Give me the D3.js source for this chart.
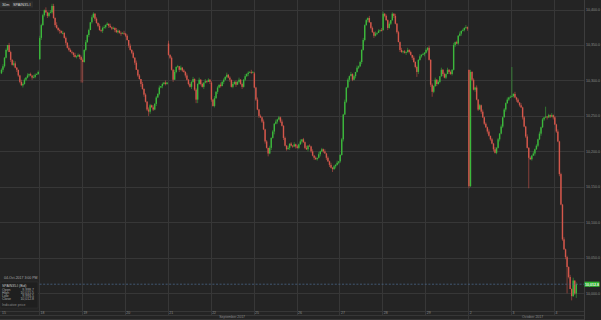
<!DOCTYPE html>
<meta charset="utf-8">
<style>
body { margin: 0; background: #242424; }
svg { display: block; font-family: "Liberation Sans", Arial, sans-serif; }
</style>
<svg width="601" height="320"></svg>
<script src="https://d3js.org/d3.v7.min.js"></script>
<script>

// trading days shown on the time axis (30 minute bars, 28 per day)
var dayLabels = ["15", "18", "19", "20", "21", "22", "25", "26", "27", "28", "29", "2", "3", "4"];
var monthLabels = ["September 2017", "October 2017"];
var monthFirstDay = [0, 11];
var firstSlot = [3, 0, 0, 0, 0, 0, 0, 0, 0, 0, 0, 0, 0, 0];

// opening price of each day's first bar
var dayOpens = [10310, 10330, 10329, 10366, 10352, 10297, 10310, 10207, 10186, 10371, 10339, 10315, 10277, 10248];

// closing prices, one row per day
var closes = [
  [10315, 10320, 10332, 10343, 10350, 10340, 10329, 10322, 10324, 10318, 10315, 10307, 10298, 10293, 10295, 10301, 10304, 10307, 10309, 10307, 10304, 10305, 10308, 10309, 10312],
  [10360, 10378, 10392, 10399, 10396, 10391, 10395, 10396, 10405, 10388, 10378, 10374, 10371, 10370, 10367, 10367, 10360, 10353, 10346, 10343, 10340, 10339, 10336, 10333, 10334, 10336, 10333, 10329],
  [10326, 10343, 10354, 10364, 10371, 10382, 10389, 10394, 10387, 10381, 10377, 10371, 10370, 10374, 10375, 10378, 10380, 10377, 10375, 10373, 10374, 10371, 10368, 10370, 10367, 10366, 10367, 10366],
  [10363, 10357, 10349, 10343, 10339, 10332, 10325, 10315, 10307, 10302, 10295, 10288, 10280, 10270, 10259, 10256, 10265, 10262, 10259, 10267, 10276, 10281, 10290, 10292, 10295, 10297, 10295, 10297],
  [10336, 10332, 10315, 10301, 10312, 10319, 10320, 10315, 10318, 10314, 10312, 10307, 10301, 10295, 10291, 10298, 10302, 10287, 10273, 10295, 10301, 10295, 10291, 10297, 10299, 10298, 10301, 10298],
  [10273, 10264, 10275, 10284, 10290, 10294, 10292, 10298, 10301, 10305, 10308, 10304, 10301, 10291, 10295, 10298, 10294, 10298, 10301, 10295, 10291, 10301, 10306, 10309, 10311, 10312, 10311, 10312],
  [10290, 10273, 10259, 10250, 10248, 10242, 10231, 10214, 10205, 10197, 10205, 10219, 10228, 10239, 10242, 10245, 10248, 10242, 10236, 10219, 10208, 10203, 10205, 10211, 10208, 10207, 10210, 10207],
  [10205, 10210, 10214, 10217, 10213, 10205, 10203, 10208, 10207, 10200, 10194, 10191, 10189, 10191, 10196, 10200, 10203, 10200, 10197, 10191, 10186, 10181, 10177, 10175, 10179, 10181, 10184, 10186],
  [10195, 10217, 10252, 10270, 10290, 10301, 10306, 10309, 10301, 10306, 10312, 10318, 10320, 10326, 10343, 10357, 10378, 10385, 10388, 10382, 10374, 10368, 10363, 10366, 10367, 10370, 10371, 10370],
  [10394, 10391, 10385, 10374, 10380, 10385, 10394, 10391, 10380, 10368, 10354, 10343, 10340, 10341, 10339, 10340, 10343, 10340, 10336, 10332, 10326, 10319, 10312, 10329, 10334, 10336, 10337, 10339],
  [10343, 10346, 10329, 10294, 10284, 10292, 10301, 10295, 10298, 10306, 10315, 10309, 10304, 10309, 10315, 10312, 10309, 10315, 10350, 10354, 10352, 10363, 10366, 10370, 10371, 10374, 10375, 10373],
  [10151, 10312, 10301, 10287, 10290, 10273, 10259, 10265, 10256, 10248, 10239, 10234, 10228, 10222, 10217, 10211, 10203, 10198, 10205, 10217, 10225, 10235, 10248, 10259, 10268, 10273, 10276, 10277],
  [10278, 10281, 10276, 10273, 10269, 10265, 10262, 10248, 10235, 10221, 10205, 10191, 10189, 10194, 10197, 10203, 10208, 10217, 10225, 10234, 10245, 10248, 10249, 10248, 10251, 10249, 10251, 10248],
  [10238, 10228, 10214, 10168, 10125, 10076, 10062, 10051, 10037, 10023, 10006, 9996, 10018, 9999.7, 10012.8]
];

// points of upper and lower shadow per bar, one digit per bar
var upperShadow = [
  "2312032143101322131203212", "3221412323141203121322131212", "2131203212131231203121321213",
  "1203121312031213213121302131", "4121312031213121312131203121", "2131203121312031213121312131",
  "2131213120312131213121302131", "2130213121312031213121312130", "1213121312031213121302131213",
  "3121302131213121312031213121", "2131213120312131213121302131", "0312131213121302131213121312",
  "2131203121312131213120312131", "213121312131203"
];
var lowerShadow = [
  "1321203121322031212131201", "1312132021312412131202312131", "3121302131212312031213121302",
  "2131213021413121302131213121", "1213021312131213121512131203", "3121312031213121302131213021",
  "1213121312131413121312031213", "1213121302131213120313121312", "2131213021312131213121312021",
  "1213121312031213121312131203", "1213121312131203121312131213", "3121312031213121312131203121",
  "1213121312131203121312131213", "121312131203121"
];

// bars with a long shadow: [day, slot, high, low]
var wicks = [
  [1, 8, 10408, null], [1, 27, null, 10297], [2, 0, null, 10297], [3, 15, null, 10250],
  [4, 18, null, 10268], [6, 9, null, 10193], [7, 23, null, 10171], [9, 22, null, 10305],
  [10, 4, null, 10277], [11, 0, null, 10148], [12, 0, 10319, null], [12, 11, null, 10148],
  [12, 22, 10263, null], [13, 8, null, 10000], [13, 11, null, 9990], [13, 12, 10022, null],
  [13, 14, 10015.5, 9993.5]
];

var priceTicks = [10000, 10050, 10100, 10150, 10200, 10250, 10300, 10350, 10400];
var infoLabels = ["Open", "High", "Low", "Close"];

var slotsPerDay = 28;
var plotRight = 584, plotBottom = 311;
var green = "#3cb83c", red = "#d4574b";

var svg = d3.select("svg");

// build the bars
var candles = [];
closes.forEach(function(day, d) {
  var prev = dayOpens[d];
  day.forEach(function(c, k) {
    var up = +(upperShadow[d][k] || 0), lo = +(lowerShadow[d][k] || 0);
    candles.push({day: d, slot: firstSlot[d] + k, open: prev, close: c,
                  high: Math.max(prev, c) + up, low: Math.min(prev, c) - lo});
    prev = c;
  });
});
wicks.forEach(function(w) {
  var c = candles.find(function(e) { return e.day === w[0] && e.slot === w[1]; });
  if (!c) return;
  if (w[2] != null) c.high = w[2];
  if (w[3] != null) c.low = w[3];
});
var last = candles[candles.length - 1];

var x = d3.scaleLinear()
    .domain([0, dayLabels.length * slotsPerDay])
    .range([-3.92, -3.92 + dayLabels.length * 42.92]);
var y = d3.scaleLinear().domain([10000, 10400]).range([293.3, 9.5]);

svg.append("rect").attr("width", 601).attr("height", 320).attr("fill", "#242424");

svg.append("defs").append("clipPath").attr("id", "plot")
  .append("rect").attr("x", 0).attr("y", 0).attr("width", plotRight).attr("height", plotBottom);

// grid
var grid = svg.append("g").attr("stroke", "#373737").attr("stroke-width", 1).attr("shape-rendering", "crispEdges");
grid.selectAll("line.h").data(priceTicks).enter().append("line")
    .attr("x1", 0).attr("x2", plotRight)
    .attr("y1", function(d) { return Math.round(y(d)) + 0.5; })
    .attr("y2", function(d) { return Math.round(y(d)) + 0.5; });
grid.selectAll("line.v").data(dayLabels).enter().append("line")
    .attr("x1", function(d, i) { return Math.round(x(i * slotsPerDay)) + 0.5; })
    .attr("x2", function(d, i) { return Math.round(x(i * slotsPerDay)) + 0.5; })
    .attr("y1", 0)
    .attr("y2", function(d, i) { return monthFirstDay.indexOf(i) > 0 ? 320 : 315; });
[plotBottom, 315, 319].forEach(function(v) {
  grid.append("line").attr("x1", 0).attr("x2", plotRight).attr("y1", v + 0.5).attr("y2", v + 0.5);
});
grid.append("line").attr("x1", plotRight + 0.5).attr("x2", plotRight + 0.5).attr("y1", 0).attr("y2", 320)
    .attr("stroke", "#3d3d3d");

// candles
var bars = svg.append("g").attr("clip-path", "url(#plot)");
var cx = function(d) { return x(d.day * slotsPerDay + d.slot + 0.5); };
var col = function(d) { return d.close >= d.open ? green : red; };

bars.selectAll("line").data(candles).enter().append("line")
    .attr("x1", cx).attr("x2", cx)
    .attr("y1", function(d) { return y(d.high); })
    .attr("y2", function(d) { return y(d.low); })
    .attr("stroke", col).attr("stroke-width", 0.7).attr("stroke-opacity", 0.8);

bars.selectAll("rect").data(candles).enter().append("rect")
    .attr("x", function(d) { return cx(d) - 0.7; })
    .attr("width", 1.4)
    .attr("y", function(d) { return y(Math.max(d.open, d.close)); })
    .attr("height", function(d) { return Math.max(0.8, Math.abs(y(d.open) - y(d.close))); })
    .attr("fill", col);

// last price line and tag
var yl = y(last.close);
svg.append("line").attr("x1", 0).attr("x2", plotRight).attr("y1", yl).attr("y2", yl)
    .attr("stroke", "#4d6f95").attr("stroke-width", 0.7).attr("stroke-dasharray", "2,1.6");
svg.append("rect").attr("x", plotRight + 0.5).attr("y", yl - 2.6).attr("width", 15).attr("height", 5.2)
    .attr("fill", "#2fb52f");
svg.append("text").attr("x", plotRight + 8).attr("y", yl + 1.3).attr("text-anchor", "middle")
    .attr("font-size", 3.6).attr("font-weight", "bold").attr("fill", "#f2f2f2")
    .text(d3.format(",.1f")(last.close));

// price axis
svg.append("g").selectAll("text").data(priceTicks).enter().append("text")
    .attr("x", plotRight + 2).attr("y", function(d) { return y(d) + 1.2; })
    .attr("font-size", 3.6).attr("fill", "#8c8c8c")
    .text(function(d) { return d3.format(",.1f")(d); });

// day and month labels
svg.append("g").selectAll("text").data(dayLabels).enter().append("text")
    .attr("x", function(d, i) { return Math.max(2, x(i * slotsPerDay) + 1.5); })
    .attr("y", 314.2)
    .attr("font-size", 3.5).attr("fill", "#8c8c8c")
    .text(function(d) { return d; });
svg.append("g").selectAll("text").data(monthLabels).enter().append("text")
    .attr("x", function(d, i) {
      var a = x(monthFirstDay[i] * slotsPerDay);
      var b = i + 1 < monthFirstDay.length ? x(monthFirstDay[i + 1] * slotsPerDay) : x.range()[1];
      return (a + b) / 2;
    })
    .attr("y", 318.4).attr("text-anchor", "middle")
    .attr("font-size", 3.5).attr("fill", "#8c8c8c")
    .text(function(d) { return d; });

// header tags
var head = svg.append("g").attr("font-size", 3.8).attr("fill", "#d8d8d8");
head.append("rect").attr("x", 0).attr("y", 1.5).attr("width", 10.5).attr("height", 6).attr("fill", "#2e2e2e");
head.append("rect").attr("x", 11.5).attr("y", 1.5).attr("width", 21.5).attr("height", 6).attr("fill", "#2e2e2e");
head.append("text").attr("x", 2).attr("y", 5.8).text("30m");
head.append("text").attr("x", 13).attr("y", 5.8).text("SPAIN35.I");

// info panel
var info = svg.append("g").attr("font-size", 3.5).attr("fill", "#a8a8a8");
info.append("text").attr("x", 4).attr("y", 278.6).text("04-Oct-2017 3:00 PM");
info.append("rect").attr("x", 0).attr("y", 282).attr("width", 38).attr("height", 26)
    .attr("fill", "#1f1f1f").attr("stroke", "#333").attr("stroke-width", 0.5);
info.append("text").attr("x", 2).attr("y", 287.2).attr("fill", "#c4c4c4").text("SPAIN35.I (Bid)");
var infoValues = [last.open, last.high, last.low, last.close];
infoLabels.forEach(function(l, i) {
  info.append("text").attr("x", 2).attr("y", 291.3 + i * 2.95).text(l);
  info.append("text").attr("x", 34).attr("y", 291.3 + i * 2.95).attr("text-anchor", "end")
      .text(d3.format(",.1f")(infoValues[i]));
});
info.append("text").attr("x", 2).attr("y", 306.4).attr("fill", "#8c8c8c").text("Indicative price");

</script>
